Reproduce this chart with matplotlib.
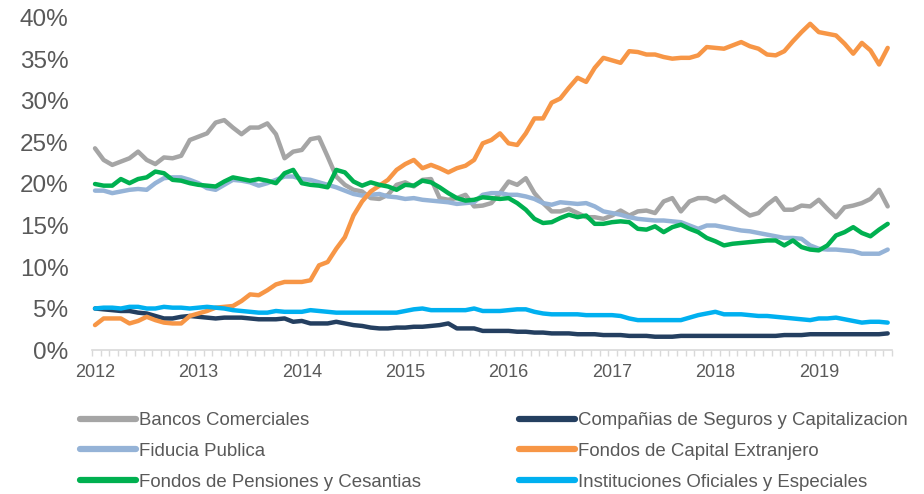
import matplotlib
matplotlib.use("Agg")
import matplotlib.pyplot as plt
import numpy as np
from matplotlib.ticker import FuncFormatter

# monthly shares (%), Jan 2012 .. Sep 2019
bancos = [
    24.3, 22.9, 22.3, 22.7, 23.1, 23.9, 22.9, 22.4, 23.2, 23.1, 23.4, 25.3,
    25.7, 26.1, 27.4, 27.7, 26.8, 26.0, 26.8, 26.8, 27.3, 26.0, 23.1, 23.9,
    24.1, 25.4, 25.6, 23.3, 20.9, 19.9, 19.3, 19.1, 18.3, 18.2, 18.7, 19.9,
    20.2, 19.7, 20.5, 20.6, 18.3, 18.1, 18.3, 18.7, 17.3, 17.4, 17.7, 18.9,
    20.3, 19.9, 20.7, 18.9, 17.7, 16.7, 16.7, 17.0, 16.5, 16.0, 16.0, 15.8,
    16.2, 16.8, 16.2, 16.7, 16.8, 16.5, 17.9, 18.3, 16.7, 17.9, 18.3, 18.3,
    17.9, 18.5, 17.7, 16.9, 16.2, 16.5, 17.5, 18.3, 16.9, 16.9, 17.4, 17.3,
    18.1, 17.0, 16.0, 17.2, 17.4, 17.7, 18.2, 19.3, 17.3,
]
companias = [
    5.0, 4.9, 4.8, 4.7, 4.7, 4.5, 4.4, 4.1, 3.8, 3.8, 4.0, 4.1,
    4.0, 3.9, 3.8, 3.9, 3.9, 3.9, 3.8, 3.7, 3.7, 3.7, 3.8, 3.4,
    3.5, 3.2, 3.2, 3.2, 3.4, 3.2, 3.0, 2.9, 2.7, 2.6, 2.6, 2.7,
    2.7, 2.8, 2.8, 2.9, 3.0, 3.2, 2.6, 2.6, 2.6, 2.3, 2.3, 2.3,
    2.3, 2.2, 2.2, 2.1, 2.1, 2.0, 2.0, 2.0, 1.9, 1.9, 1.9, 1.8,
    1.8, 1.8, 1.7, 1.7, 1.7, 1.6, 1.6, 1.6, 1.7, 1.7, 1.7, 1.7,
    1.7, 1.7, 1.7, 1.7, 1.7, 1.7, 1.7, 1.7, 1.8, 1.8, 1.8, 1.9,
    1.9, 1.9, 1.9, 1.9, 1.9, 1.9, 1.9, 1.9, 2.0,
]
fiducia = [
    19.2, 19.2, 18.9, 19.1, 19.3, 19.4, 19.3, 20.1, 20.7, 20.8, 20.8, 20.5,
    20.1, 19.5, 19.3, 19.9, 20.5, 20.4, 20.2, 19.8, 20.1, 20.5, 20.9, 20.9,
    20.6, 20.5, 20.2, 19.9, 19.6, 19.2, 18.8, 18.6, 18.7, 18.8, 18.5, 18.4,
    18.2, 18.3, 18.1, 18.0, 17.9, 17.8, 17.6, 17.7, 17.8, 18.7, 18.9, 18.9,
    18.7, 18.7, 18.5, 18.2, 17.7, 17.5, 17.8, 17.7, 17.6, 17.7, 17.3, 16.7,
    16.5, 16.3, 16.0, 15.8, 15.7, 15.6, 15.6, 15.5, 15.4, 15.0, 14.6, 15.0,
    15.0, 14.8, 14.6, 14.4, 14.3, 14.1, 13.9, 13.7, 13.5, 13.5, 13.4, 12.6,
    12.2, 12.1, 12.1, 12.0, 11.9, 11.6, 11.6, 11.6, 12.1,
]
capital_ext = [
    3.0, 3.8, 3.8, 3.8, 3.2, 3.5, 4.0, 3.6, 3.3, 3.2, 3.2, 4.1,
    4.4, 4.7, 5.1, 5.2, 5.3, 5.9, 6.7, 6.6, 7.2, 7.9, 8.2, 8.2,
    8.2, 8.4, 10.2, 10.6, 12.2, 13.6, 16.2, 17.9, 19.1, 19.8, 20.5, 21.7,
    22.4, 22.9, 21.9, 22.3, 21.9, 21.4, 21.9, 22.2, 22.9, 24.9, 25.3, 26.1,
    24.9, 24.7, 26.1, 27.9, 27.9, 29.8, 30.3, 31.6, 32.8, 32.3, 34.0, 35.2,
    34.9, 34.6, 36.0, 35.9, 35.6, 35.6, 35.3, 35.1, 35.2, 35.2, 35.5, 36.5,
    36.4, 36.3, 36.7, 37.1, 36.6, 36.3, 35.6, 35.5, 36.0, 37.2, 38.3, 39.3,
    38.3, 38.1, 37.9, 36.9, 35.7, 37.0, 36.1, 34.4, 36.4,
]
pensiones = [
    20.0, 19.8, 19.8, 20.6, 20.1, 20.6, 20.8, 21.5, 21.3, 20.5, 20.4, 20.1,
    19.9, 19.8, 19.7, 20.3, 20.8, 20.6, 20.4, 20.6, 20.4, 20.1, 21.3, 21.7,
    20.1, 19.9, 19.8, 19.6, 21.7, 21.4, 20.3, 19.8, 20.2, 19.9, 19.7, 19.3,
    19.9, 19.8, 20.4, 20.2, 19.6, 18.9, 18.3, 18.0, 18.1, 18.4, 18.3, 18.2,
    18.3, 17.7, 16.9, 15.8, 15.3, 15.4, 15.9, 16.3, 16.0, 16.2, 15.2, 15.2,
    15.4, 15.5, 15.4, 14.6, 14.5, 14.9, 14.2, 14.8, 15.1, 14.6, 14.2, 13.5,
    13.1, 12.6, 12.8, 12.9, 13.0, 13.1, 13.2, 13.2, 12.6, 13.2, 12.4, 12.1,
    12.0, 12.6, 13.8, 14.2, 14.8, 14.1, 13.7, 14.5, 15.2,
]
oficiales = [
    5.0, 5.1, 5.1, 5.0, 5.2, 5.2, 5.0, 5.0, 5.2, 5.1, 5.1, 5.0,
    5.1, 5.2, 5.1, 5.0, 4.8, 4.7, 4.6, 4.5, 4.5, 4.7, 4.6, 4.6,
    4.6, 4.8, 4.7, 4.6, 4.5, 4.5, 4.5, 4.5, 4.5, 4.5, 4.5, 4.5,
    4.7, 4.9, 5.0, 4.8, 4.8, 4.8, 4.8, 4.8, 5.0, 4.7, 4.7, 4.7,
    4.8, 4.9, 4.9, 4.6, 4.4, 4.3, 4.3, 4.3, 4.3, 4.2, 4.2, 4.2,
    4.2, 4.1, 3.8, 3.6, 3.6, 3.6, 3.6, 3.6, 3.6, 3.9, 4.2, 4.4,
    4.6, 4.3, 4.3, 4.3, 4.2, 4.1, 4.1, 4.0, 3.9, 3.8, 3.7, 3.6,
    3.8, 3.8, 3.9, 3.7, 3.5, 3.3, 3.4, 3.4, 3.3,
]

years = [2012, 2013, 2014, 2015, 2016, 2017, 2018, 2019]

# drawing order follows the source chart, legend is column-major
series = [
    ("Bancos Comerciales", bancos, "#A5A5A5"),
    ("Compañias de Seguros y Capitalizacion", companias, "#243F60"),
    ("Fiducia Publica", fiducia, "#95B3D7"),
    ("Fondos de Capital Extranjero", capital_ext, "#F79646"),
    ("Fondos de Pensiones y Cesantias", pensiones, "#00B050"),
    ("Instituciones Oficiales y Especiales", oficiales, "#00B0F0"),
]
legend_order = [0, 2, 4, 1, 3, 5]

plt.rcParams["font.family"] = ["Liberation Sans", "DejaVu Sans"]

fig = plt.figure(figsize=(9.24, 4.94), dpi=100)
ax = fig.add_axes([92 / 924, 1 - 350 / 494, 800 / 924, 332 / 494])

x = np.arange(len(bancos))
lines = []
for name, vals, color in series:
    (ln,) = ax.plot(x, vals, color=color, lw=3.2, label=name,
                    solid_joinstyle="round", solid_capstyle="round", clip_on=False)
    lines.append(ln)

ax.set_ylim(0, 40)
ax.set_yticks(range(0, 41, 5))
ax.yaxis.set_major_formatter(FuncFormatter(lambda v, p: f"{v:.0f}%"))
ax.set_xlim(-0.35, 92.5)
ax.set_xticks([12 * k for k in range(len(years))])
ax.set_xticklabels([str(y) for y in years])
ax.set_xticks(np.linspace(-0.35, 92.5, 94), minor=True)

for side in ["top", "right", "left"]:
    ax.spines[side].set_visible(False)
ax.spines["bottom"].set_color("#D9D9D9")
ax.spines["bottom"].set_linewidth(1.2)

ax.tick_params(axis="y", length=0, pad=17, labelsize=17.5, labelcolor="#595959")
ax.tick_params(axis="x", which="major", length=0, pad=10, labelsize=13, labelcolor="#595959")
ax.tick_params(axis="x", which="minor", length=4, width=1, color="#D9D9D9", direction="out")

leg = fig.legend(
    [lines[i] for i in legend_order],
    [series[i][0] for i in legend_order],
    loc="upper left", bbox_to_anchor=(80 / 924, 1 - 412 / 494),
    ncol=2, frameon=False, fontsize=13.4, borderpad=0, borderaxespad=0,
    handlelength=3.0, handletextpad=0.15, columnspacing=5.3, labelspacing=0.74,
    labelcolor="#595959",
)
for ln in leg.get_lines():
    ln.set_linewidth(4.5)

fig.savefig("out.png", dpi=100)
